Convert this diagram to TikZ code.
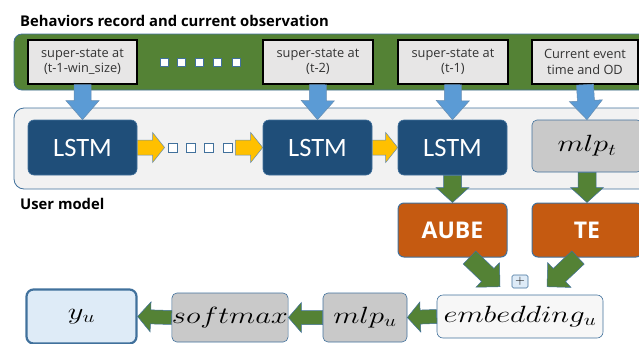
\RequirePackage{fix-cm}
\documentclass[tikz,border=0pt]{standalone}
\usepackage{fontspec}
\usepackage{graphicx}
\usetikzlibrary{calc}
\newfontfamily\osans{Open Sans}
\newfontfamily\calib{Carlito}
\definecolor{bandgreen}{HTML}{548235}
\definecolor{edgeblue}{HTML}{41719C}
\definecolor{arrblue}{HTML}{5B9BD5}
\definecolor{arryellow}{HTML}{FFC000}
\definecolor{lstmblue}{HTML}{1F4E79}
\definecolor{boxgray}{HTML}{E7E6E6}
\definecolor{midgray}{HTML}{C9C9C9}
\definecolor{panelgray}{HTML}{F2F2F2}
\definecolor{orangebox}{HTML}{C55A11}
\definecolor{lightblue}{HTML}{DEEBF7}
\definecolor{textgray}{HTML}{333333}
\newcommand\blockarr[6]{%
  \path (#3) coordinate (ba-e) (#2) coordinate (ba-s);
  \coordinate (ba-h) at ($(ba-e)!#6!(ba-s)$);
  \filldraw[#1] ($(ba-s)!#4!90:(ba-e)$) -- ($(ba-h)!#4!90:(ba-e)$) --
    ($(ba-h)!#5!90:(ba-e)$) -- (ba-e) -- ($(ba-h)!#5!-90:(ba-e)$) --
    ($(ba-h)!#4!-90:(ba-e)$) -- ($(ba-s)!#4!-90:(ba-e)$) -- cycle;}
\newcommand\mtext[1]{\scalebox{1.3}[1]{$#1$}}
\tikzset{
  sbox/.style={draw=black, line width=1.3pt, fill=boxgray, text=textgray,
    font=\osans\fontsize{12.8}{15.5}\selectfont, align=center, inner sep=0pt,
    minimum height=44pt},
  lstmbox/.style={draw=edgeblue, line width=0.6pt, fill=lstmblue, text=white,
    rounded corners=6pt, font=\calib\fontsize{26.5}{26.5}\selectfont,
    minimum width=109pt, minimum height=55pt, inner sep=0pt},
  graybox/.style={draw=edgeblue, line width=0.6pt, fill=midgray, rounded corners=5pt,
    font=\fontsize{23.5}{23.5}\selectfont, inner sep=0pt},
  orbox/.style={draw=edgeblue, line width=1pt, fill=orangebox, text=white,
    rounded corners=6pt, font=\osans\bfseries\fontsize{23}{23}\selectfont,
    minimum height=54pt, inner sep=0pt},
  sq/.style={draw=edgeblue, line width=0.8pt, fill=white, minimum size=8pt, inner sep=0pt},
  barrow/.style={fill=arrblue, draw=edgeblue!80, line width=0.5pt},
  garrow/.style={fill=bandgreen, draw=edgeblue, line width=0.5pt},
  yarrow/.style={fill=arryellow, draw=edgeblue!80, line width=0.5pt},
  lbl/.style={font=\osans\bfseries\fontsize{14.8}{16}\selectfont, anchor=west, inner sep=0pt}
}
\begin{document}
\begin{tikzpicture}[x=1pt,y=-1pt]
\useasboundingbox (0,0) rectangle (639,343);
% panels
\filldraw[fill=bandgreen, draw=edgeblue, line width=0.8pt, rounded corners=8pt] (14,34) rectangle (665,90);
\filldraw[fill=panelgray, draw=edgeblue, line width=0.8pt, rounded corners=10pt] (14,108) rectangle (665,189);
\node[lbl] (title) at (20,21) {Behaviors record and current observation};
\node[lbl] (umodel) at (20,204) {User model};
% top boxes
\node[sbox, minimum width=109pt] (s1) at (82.5,62) {super-state at\\(t-1-win\_size)};
\node[sbox, minimum width=110pt] (s2) at (318,62) {super-state at\\(t-2)};
\node[sbox, minimum width=110pt] (s3) at (453,62) {super-state at\\(t-1)};
\node[sbox, minimum width=106pt] (s4) at (585,62) {Current event\\time and OD};
\foreach \i/\x in {1/164,2/181,3/199,4/217,5/236}
  \node[sq] (d1\i) at (\x,62) {};
% lstm row
\node[lstmbox] (l1) at (82.5,147.5) {LSTM};
\node[lstmbox] (l2) at (317.5,147.5) {LSTM};
\node[lstmbox] (l3) at (452.5,147.5) {LSTM};
\node[graybox, minimum width=110pt, minimum height=52pt] (mlpt) at (587,146) {\mtext{mlp_t}};
\foreach \i/\x in {1/172.5,2/191,3/209,4/227.5}
  \node[sq, minimum size=9pt] (d2\i) at (\x,147.5) {};
% lower boxes
\node[orbox, minimum width=109pt] (aube) at (452.5,230) {AUBE};
\node[orbox, minimum width=110pt] (te) at (587,230) {TE};
\node[draw=edgeblue, line width=0.6pt, fill=lightblue, rounded corners=1.5pt,
  minimum width=16pt, minimum height=13pt, inner sep=0pt,
  font=\fontsize{13}{13}\selectfont] (plus) at (520,281.5) {$+$};
\node[draw=edgeblue, line width=0.6pt, fill=panelgray!60!white, rounded corners=6pt,
  minimum width=166pt, minimum height=43pt, inner sep=0pt,
  font=\fontsize{23.5}{23.5}\selectfont] (emb) at (520,316.5) {\mtext{embedding_u}};
\node[graybox, minimum width=84pt, minimum height=49pt] (mlpu) at (365,317.5) {\mtext{mlp_u}};
\node[graybox, minimum width=116pt, minimum height=49pt] (soft) at (230,317.5) {\mtext{softmax}};
\node[draw=edgeblue, line width=2.2pt, fill=lightblue, rounded corners=7pt,
  minimum width=110pt, minimum height=54pt, inner sep=0pt,
  font=\fontsize{23.5}{23.5}\selectfont] (yu) at (81.5,316.5) {\mtext{y_u}};
% blue arrows
\blockarr{barrow}{s1.south}{l1.north}{8.5pt}{16.5pt}{19pt}
\blockarr{barrow}{s2.south}{l2.north}{8.5pt}{16.5pt}{19pt}
\blockarr{barrow}{s3.south}{l3.north}{8.5pt}{16.5pt}{19pt}
\blockarr{barrow}{s4.south}{mlpt.north}{8.5pt}{16.5pt}{19pt}
% yellow arrows
\coordinate (ya) at ($(d21.west)+(-3,0)$);
\coordinate (yb) at ($(d24.east)+(3,0)$);
\blockarr{yarrow}{l1.east}{ya}{7.5pt}{15pt}{12pt}
\blockarr{yarrow}{yb}{l2.west}{7.5pt}{15pt}{12pt}
\blockarr{yarrow}{l2.east}{l3.west}{7.5pt}{15pt}{12pt}
% green arrows
\blockarr{garrow}{l3.south}{aube.north}{9pt}{16.5pt}{15pt}
\blockarr{garrow}{mlpt.south}{te.north}{9pt}{16.5pt}{15pt}
\coordinate (ga) at ($(aube.south)+(17,0)$);
\coordinate (gb) at ($(emb.north)+(-20,-8)$);
\coordinate (gc) at ($(te.south)+(-9,0)$);
\coordinate (gd) at ($(emb.north)+(27,-8)$);
\blockarr{garrow}{ga}{gb}{9pt}{17pt}{17pt}
\blockarr{garrow}{gc}{gd}{9pt}{17pt}{17pt}
\blockarr{garrow}{emb.west}{mlpu.east}{7pt}{15pt}{13pt}
\blockarr{garrow}{mlpu.west}{soft.east}{7pt}{15pt}{13pt}
\blockarr{garrow}{soft.west}{yu.east}{7pt}{15pt}{13pt}
\end{tikzpicture}
\end{document}
